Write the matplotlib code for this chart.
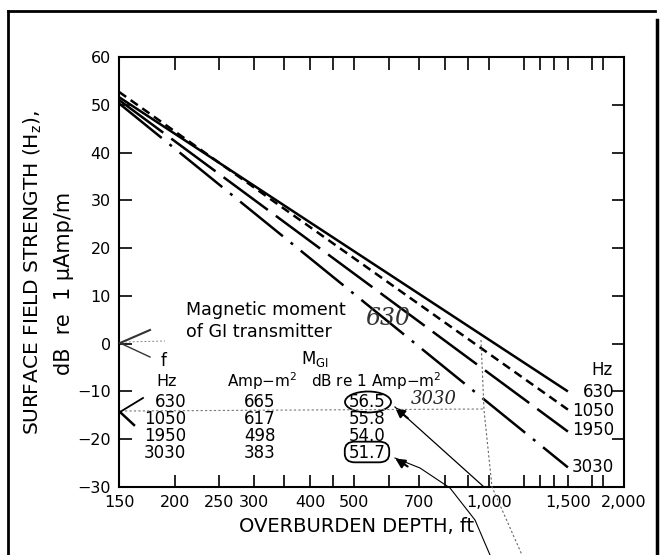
import matplotlib
matplotlib.use("Agg")
import matplotlib.pyplot as plt
from matplotlib.lines import Line2D
from matplotlib.patches import Ellipse, FancyBboxPatch
from matplotlib.ticker import NullFormatter, FixedLocator

# ---------------- data ----------------
depth_ft = [150, 1500]
field_630 = [51.6, -10.0]
field_1050 = [52.7, -13.8]
field_1950 = [51.0, -18.4]
field_3030 = [50.3, -25.9]

freq_hz = ["630", "1050", "1950", "3030"]
moment_amp = ["665", "617", "498", "383"]
moment_db = ["56.5", "55.8", "54.0", "51.7"]

x_ticks = [150, 200, 250, 300, 400, 500, 700, 1000, 1500, 2000]
x_tick_labels = ["150", "200", "250", "300", "400", "500", "700", "1,000", "1,500", "2,000"]
x_minor = [350, 450, 600, 800, 900, 1200, 1300, 1400, 1700, 1800]
y_ticks = [-30, -20, -10, 0, 10, 20, 30, 40, 50, 60]

W, H = 662, 555
plt.rcParams['font.family'] = ['DejaVu Sans']
fig = plt.figure(figsize=(W / 100, H / 100), dpi=100)

L, R, T, B = 119, 624, 57, 487
ax = fig.add_axes([L / W, 1 - B / H, (R - L) / W, (B - T) / H])
ax.set_xscale("log")
ax.set_xlim(150, 2000)
ax.set_ylim(-30, 60)

lw = 1.8
ax.plot(depth_ft, field_630, color="black", lw=lw, solid_capstyle="butt")
ax.plot(depth_ft, field_1050, color="black", lw=lw, dashes=(3.5, 2.2))
ax.plot(depth_ft, field_1950, color="black", lw=lw, dashes=(22, 4))
ax.plot(depth_ft, field_3030, color="black", lw=lw, dashes=(22, 4, 1.2, 4))

ax.xaxis.set_major_locator(FixedLocator(x_ticks))
ax.set_xticklabels(x_tick_labels)
ax.xaxis.set_minor_locator(FixedLocator(x_minor))
ax.xaxis.set_minor_formatter(NullFormatter())
ax.set_yticks(y_ticks)
ax.set_yticklabels([str(v).replace("-", "\u2212") for v in y_ticks])
ax.tick_params(which="both", direction="in", top=True, right=True, length=9, width=1.2,
               labelsize=11.5, pad=6)
for s in ax.spines.values():
    s.set_linewidth(1.5)

# Axis labels
fig.text(357 / W, 1 - 527 / H, "OVERBURDEN DEPTH, ft", ha="center", va="center", fontsize=14)
fig.text(33 / W, 1 - 273 / H, "SURFACE FIELD STRENGTH (H$_\\mathregular{z}$),", rotation=90,
         ha="center", va="center", fontsize=14.5)
fig.text(64 / W, 1 - 283 / H, "dB  re  1 \u03bcAmp/m", rotation=90,
         ha="center", va="center", fontsize=15)

def axf(px, py):
    return ((px - L) / (R - L), (B - py) / (B - T))

tr = ax.transAxes
# Right-side frequency labels
ax.text(*axf(602, 370), "Hz", transform=tr, ha="center", va="center", fontsize=12)
for lab, py in zip(freq_hz, [392, 411, 430, 467]):
    ax.text(*axf(614, py), lab, transform=tr, ha="right", va="center", fontsize=12)

# Annotation text & table
ax.text(*axf(186, 310), "Magnetic moment", transform=tr, ha="left", va="center", fontsize=12.6)
ax.text(*axf(186, 332), "of GI transmitter", transform=tr, ha="left", va="center", fontsize=12.6)
ax.text(*axf(164, 361), "f", transform=tr, ha="center", va="center", fontsize=12)
ax.text(*axf(315, 359), "M$_\\mathregular{GI}$", transform=tr, ha="center", va="center", fontsize=12)
ax.text(*axf(167, 382), "Hz", transform=tr, ha="center", va="center", fontsize=11.5)
ax.text(*axf(262, 381), "Amp\u2212m$^\\mathregular{2}$", transform=tr, ha="center", va="center", fontsize=11)
ax.text(*axf(376, 381), "dB re 1 Amp\u2212m$^\\mathregular{2}$", transform=tr, ha="center", va="center", fontsize=11)
rows_y = [402, 419, 436, 453]
for f, a, d, py in zip(freq_hz, moment_amp, moment_db, rows_y):
    ax.text(*axf(186, py), f, transform=tr, ha="right", va="center", fontsize=12)
    ax.text(*axf(260, py), a, transform=tr, ha="center", va="center", fontsize=12)
    ax.text(*axf(367, py), d, transform=tr, ha="center", va="center", fontsize=12)

# Handwritten marks
ax.text(*axf(388, 318), "630", transform=tr, ha="center", va="center", fontsize=17,
        family="DejaVu Serif", style="italic", fontweight="light", color="#333333")
ax.text(*axf(434, 399), "3030", transform=tr, ha="center", va="center", fontsize=13,
        family="DejaVu Serif", style="italic", fontweight="light", color="#222222")
c1 = axf(368, 402)
ax.add_patch(Ellipse(c1, 46 / (R - L), 21 / (B - T), transform=tr, fill=False, lw=1.3, color="black"))
c2 = axf(367, 452)
ax.add_patch(FancyBboxPatch((c2[0] - 0.044, c2[1] - 0.024), 0.088, 0.048, transform=tr,
                            boxstyle="round,pad=0.0,rounding_size=0.02", fill=False, lw=1.3,
                            color="black"))

def ff(px, py):
    return (px / W, 1 - py / H)

# Hand-drawn arrows and guide lines
fig.add_artist(Line2D(*zip(ff(484, 487), ff(395, 407)), color="black", lw=0.9))
ax.annotate("", xy=ff(393, 406), xytext=ff(410, 420), xycoords="figure fraction",
            textcoords="figure fraction",
            arrowprops=dict(arrowstyle="-|>", color="black", lw=1.5, mutation_scale=14))
curve = [ff(490, 555), ff(475, 520), ff(450, 488), ff(420, 468), ff(395, 458)]
fig.add_artist(Line2D([p[0] for p in curve], [p[1] for p in curve], color="black", lw=0.8))
ax.annotate("", xy=ff(393, 457), xytext=ff(410, 468), xycoords="figure fraction",
            textcoords="figure fraction",
            arrowprops=dict(arrowstyle="-|>", color="black", lw=1.5, mutation_scale=14))
vert = [ff(481, 340), ff(484, 410), ff(492, 487), ff(522, 555)]
fig.add_artist(Line2D([p[0] for p in vert], [p[1] for p in vert], color="#666666", lw=0.8,
                      ls=(0, (2, 2))))
fig.add_artist(Line2D(*zip(ff(125, 411), ff(483, 409)), color="#777777", lw=0.8, ls=(0, (2, 2))))
fig.add_artist(Line2D(*zip(ff(120, 412), ff(143, 398)), color="black", lw=1.3))
fig.add_artist(Line2D(*zip(ff(120, 412), ff(134, 425)), color="black", lw=1.8))
fig.add_artist(Line2D(*zip(ff(120, 343), ff(150, 330)), color="#333333", lw=1.5))
fig.add_artist(Line2D(*zip(ff(120, 343), ff(150, 357)), color="#333333", lw=1.0))
fig.add_artist(Line2D(*zip(ff(125, 342), ff(165, 341)), color="#888888", lw=0.7, ls=(0, (2, 2))))

# Outer frame
fig.add_artist(Line2D(*zip(ff(8, 555), ff(8, 11)), color="black", lw=2))
fig.add_artist(Line2D(*zip(ff(8, 11), ff(655, 11)), color="black", lw=2))
fig.add_artist(Line2D(*zip(ff(657, 20), ff(657, 555)), color="black", lw=2.5))

fig.savefig("out.png", dpi=100)
